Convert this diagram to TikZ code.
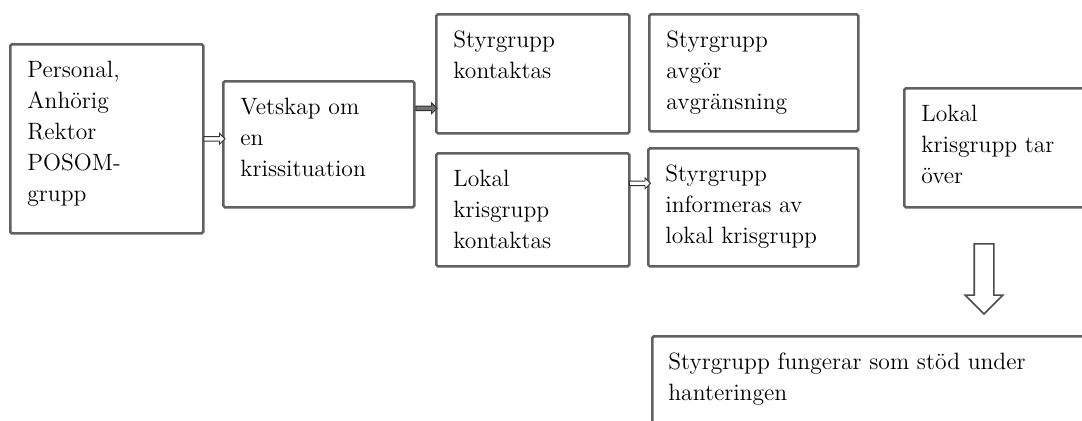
\documentclass[tikz,border=0pt]{standalone}
\usepackage{tikz}
\usetikzlibrary{shapes,arrows,positioning,calc}

\begin{document}
\begin{tikzpicture}[x=0.5pt, y=-0.5pt]
	\tikzstyle{Box}		= [draw=black!62, line width=1.3pt, rounded corners=0.8pt, anchor=north west, inner sep=0pt]
	\tikzstyle{Text}	= [anchor=north west, align=left, inner sep=0pt, font=\fontsize{11.8}{15.5}\selectfont]
	\tikzstyle{Small}	= [single arrow, draw=black!80, line width=0.45pt, fill=white, inner sep=0.9pt, minimum height=10.5pt, minimum width=5pt, single arrow head extend=1.6pt]
	\tikzstyle{Big}		= [single arrow, draw=black!70, line width=0.8pt, fill=white, inner sep=4.5pt, minimum height=35pt, minimum width=18pt, single arrow head extend=4.5pt, rotate=-90]

	\useasboundingbox (0,0) rectangle (1082,420);
	\clip (0,0) rectangle (1082,420);

	\node (b1) at (9,43) [Box, minimum width=96.5pt, minimum height=94.5pt] {};
	\node (b2) at (222,80) [Box, minimum width=95.5pt, minimum height=63pt] {};
	\node (b3) at (435,13) [Box, minimum width=96.5pt, minimum height=59.5pt] {};
	\node (b4) at (648,13) [Box, minimum width=104.5pt, minimum height=58.5pt] {};
	\node (b5) at (435,152) [Box, minimum width=96.5pt, minimum height=56.5pt] {};
	\node (b6) at (647,147) [Box, minimum width=105pt, minimum height=59pt] {};
	\node (b7) at (903,87) [Box, minimum width=100pt, minimum height=59.5pt] {};
	\node (b8) at (651,335) [Box, minimum width=230pt, minimum height=50pt] {};

	\node (t1) at ([shift={(18,17.7)}]b1.north west) [Text] {Personal,\\Anhörig\\Rektor\\POSOM-\\grupp};
	\node (t2) at ([shift={(18,17.7)}]b2.north west) [Text] {Vetskap om\\en\\krissituation};
	\node (t3) at ([shift={(18,17.7)}]b3.north west) [Text] {Styrgrupp\\kontaktas};
	\node (t4) at ([shift={(18,17.7)}]b4.north west) [Text] {Styrgrupp\\avgör\\avgränsning};
	\node (t5) at ([shift={(18,17.7)}]b5.north west) [Text] {Lokal\\krisgrupp\\kontaktas};
	\node (t6) at ([shift={(18,17.7)}]b6.north west) [Text] {Styrgrupp\\informeras av\\lokal krisgrupp};
	\node (t7) at ([shift={(18,17.7)}]b7.north west) [Text] {Lokal\\krisgrupp tar\\över};
	\node (t8) at ([shift={(17,17.7)}]b8.north west) [Text] {Styrgrupp fungerar som stöd under\\hanteringen};

	\path (b1.east) -- (b1.east -| b2.west) node [midway, Small] (a1) {};
	\path (b2.east) ++(0,-36) coordinate (s2) -- (s2 -| b3.west) node [midway, Small, fill=black!55] (a2) {};
	\path (b5.east) ++(0,-26.5) coordinate (s3) -- (s3 -| b6.west) node [midway, Small] (a3) {};

	\coordinate (d1) at (984,239);
	\coordinate (d2) at (984,309);
	\path (d1) -- (d2) node [midway, Big] (a4) {};
\end{tikzpicture}
\end{document}
